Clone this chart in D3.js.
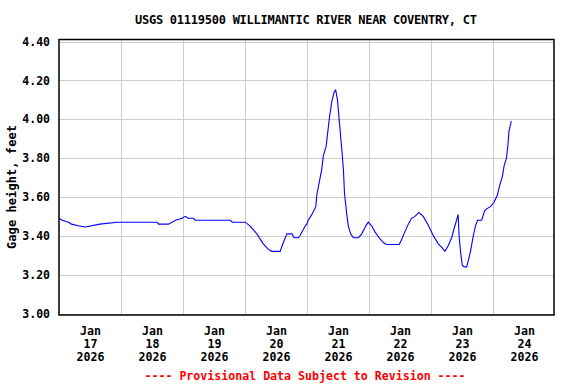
<!DOCTYPE html>
<html><head><meta charset="utf-8">
<script src="https://cdn.jsdelivr.net/npm/d3@7"></script>
<style>
body{margin:0;background:#fff}
svg{display:block}
text{font-family:"DejaVu Sans Mono",monospace;font-weight:bold}
</style>
</head><body><svg id="c" width="576" height="384"></svg>
<script>
const chartTitle = "USGS 01119500 WILLIMANTIC RIVER NEAR COVENTRY, CT";
const yAxisTitle = "Gage height, feet";
const footnote = "---- Provisional Data Subject to Revision ----";
const startDate = "2026-01-17T00:00:00Z";
const numDays = 8;
const dayLabels = [["Jan","17","2026"],["Jan","18","2026"],["Jan","19","2026"],["Jan","20","2026"],["Jan","21","2026"],["Jan","22","2026"],["Jan","23","2026"],["Jan","24","2026"]];
const yTicks = [3.0, 3.2, 3.4, 3.6, 3.8, 4.0, 4.2, 4.4];

// hours since Jan 17 00:00 and gage height (feet)
const hoursSinceStart = [0,1.2,3.7,4.8,7.9,10.2,15.8,22.5,38.0,38.5,42.4,45.1,47.6,48.9,50.0,52.0,52.8,66.3,67.1,72.1,74.0,76.6,79.0,81.0,82.4,85.6,86.4,88.2,90.2,91.0,92.6,93.3,95.3,95.9,96.5,97.9,99.4,99.8,100.8,101.7,102.3,103.4,104.0,104.7,105.6,106.5,107.1,107.8,108.5,109.5,110.1,110.5,111.4,112.0,112.9,113.9,115.9,117.2,118.7,119.7,121.1,122.3,123.9,125.5,126.9,131.7,132.6,133.9,135.2,136.5,137.8,139.3,141.0,142.9,144.9,146.8,148.5,149.4,150.7,152.0,153.0,153.9,154.5,154.9,155.5,156.1,156.8,157.8,158.4,159.3,160.3,161.2,162.0,163.6,164.8,165.7,167.0,168.3,169.7,170.6,171.7,172.3,173.2,173.8,174.2,174.9,175.1];
const gageHeight = [3.49,3.48,3.47,3.46,3.45,3.445,3.46,3.47,3.47,3.46,3.46,3.48,3.49,3.50,3.49,3.49,3.48,3.48,3.47,3.47,3.45,3.41,3.36,3.33,3.32,3.32,3.35,3.41,3.41,3.39,3.39,3.40,3.45,3.46,3.48,3.51,3.55,3.61,3.68,3.74,3.81,3.86,3.93,4.01,4.09,4.14,4.15,4.10,3.99,3.84,3.74,3.62,3.51,3.45,3.41,3.39,3.39,3.41,3.45,3.47,3.45,3.42,3.39,3.365,3.355,3.355,3.38,3.42,3.46,3.49,3.50,3.52,3.50,3.455,3.40,3.36,3.335,3.32,3.35,3.39,3.44,3.48,3.51,3.395,3.31,3.25,3.24,3.24,3.27,3.32,3.395,3.45,3.48,3.48,3.53,3.54,3.55,3.57,3.61,3.66,3.71,3.76,3.80,3.87,3.94,3.98,3.99];

const svg = d3.select("#c");
const t0 = new Date(startDate);
const t1 = d3.utcDay.offset(t0, numDays);
const x = d3.scaleUtc().domain([t0, t1]).range([59, 555]);
const y = d3.scaleLinear().domain([3.0, 4.4]).range([313.5, 41.5]);

const data = hoursSinceStart.map((h, i) => ({t: new Date(t0.getTime() + h * 3600000), v: gageHeight[i]}));

// gridlines
const grid = svg.append("g").attr("stroke", "#cccccc").attr("stroke-width", 1);
yTicks.forEach(v => {
  grid.append("line").attr("x1", 59).attr("x2", 554)
    .attr("y1", Math.round(y(v)) + 0.5).attr("y2", Math.round(y(v)) + 0.5);
});
const midnights = d3.utcDay.range(d3.utcDay.offset(t0, 1), t1);
midnights.forEach(d => {
  grid.append("line").attr("y1", 39).attr("y2", 315)
    .attr("x1", Math.round(x(d)) + 0.5).attr("x2", Math.round(x(d)) + 0.5);
});

// data line
const line = d3.line().x(d => x(d.t)).y(d => y(d.v));
svg.append("path").datum(data).attr("d", line)
  .attr("fill", "none").attr("stroke", "#0000ff").attr("stroke-width", 1.1);

// frame
svg.append("rect").attr("x", 59).attr("y", 39.5).attr("width", 495).attr("height", 275.5)
  .attr("fill", "none").attr("stroke", "#000").attr("stroke-width", 1.5);

// y axis labels
const yAxis = d3.axisLeft(y).tickValues(yTicks).tickFormat(d3.format(".2f")).tickSize(0).tickPadding(0);
const yg = svg.append("g").attr("transform", "translate(50,0)").call(yAxis);
yg.select(".domain").remove();
yg.selectAll("text").attr("font-size", "11.5px").attr("fill", "#000")
  .attr("font-family", "DejaVu Sans Mono").attr("font-weight", "bold");

// x axis labels (centered on noon of each day)
const noons = d3.range(numDays).map(i => d3.utcHour.offset(t0, i * 24 + 12));
const xAxis = d3.axisBottom(x).tickValues(noons).tickSize(0).tickFormat(() => "");
const xg = svg.append("g").attr("transform", "translate(0,315)").call(xAxis);
xg.select(".domain").remove();
xg.selectAll(".tick").each(function(d, i) {
  const tk = d3.select(this);
  tk.select("text").remove();
  dayLabels[i].forEach((s, j) => {
    tk.append("text").attr("x", 0).attr("y", 16 + j * 13.3)
      .attr("text-anchor", "middle").attr("dominant-baseline", "middle")
      .attr("font-size", "11.6px").attr("fill", "#000").text(s);
  });
});

// title
svg.append("text").attr("x", 306).attr("y", 20).attr("text-anchor", "middle")
  .attr("dominant-baseline", "middle").attr("font-size", "12px").attr("fill", "#000")
  .attr("textLength", 342).attr("lengthAdjust", "spacing").text(chartTitle);

// y axis title
svg.append("text").attr("transform", "translate(12,187) rotate(-90)")
  .attr("text-anchor", "middle").attr("dominant-baseline", "middle")
  .attr("font-size", "12px").attr("fill", "#000")
  .attr("textLength", 124).attr("lengthAdjust", "spacing").text(yAxisTitle);

// footnote
svg.append("text").attr("x", 305).attr("y", 376).attr("text-anchor", "middle")
  .attr("dominant-baseline", "middle").attr("font-size", "11.6px").attr("fill", "#ff0000")
  .attr("textLength", 321).attr("lengthAdjust", "spacing").text(footnote);
</script>
</body></html>
